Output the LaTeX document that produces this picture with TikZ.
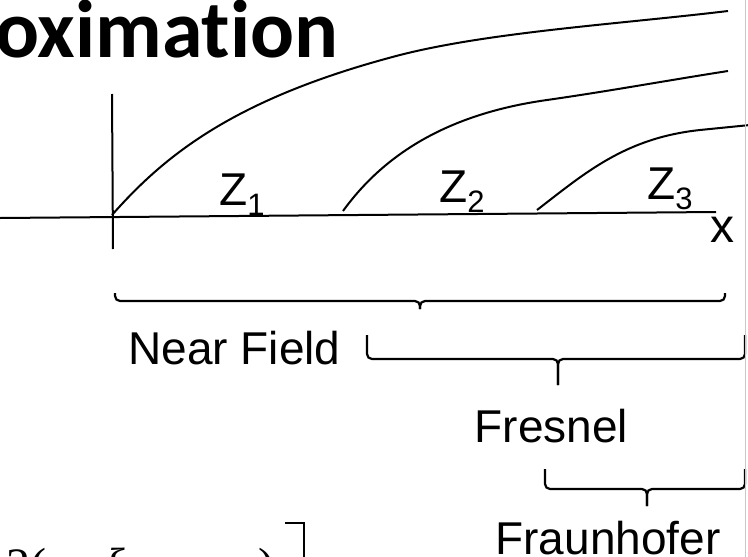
\documentclass[tikz,border=0pt]{standalone}
\usepackage{fontspec}
\setmainfont{Liberation Sans}
\newfontfamily\titlefont[Ligatures={NoCommon,NoContextual}]{Carlito}
\newfontfamily\eqfont{Liberation Serif}
\usetikzlibrary{positioning}
\definecolor{edgegray}{RGB}{200,200,200}
% Z with a lowered index
\newcommand{\zsub}[1]{Z{\fontsize{31}{31}\selectfont\raisebox{-10pt}{#1}}}
% zone brace: left x, tip x, right x, line y, hook top, tip bottom
\newcommand{\zonebrace}[6]{%
  \draw[bracket] (#1,#5) -- (#1,#4) -- (#2,#4) -- (#2,#6);
  \draw[bracket] (#2,#6) -- (#2,#4) -- (#3,#4) -- (#3,#5);}

\begin{document}
\begin{tikzpicture}[x=1pt, y=-1pt,
    wave/.style={black, line width=2pt},
    bracket/.style={black, line width=2.2pt, rounded corners=5pt},
    lab/.style={font=\fontsize{46}{50}\selectfont, inner sep=0pt, anchor=base}]
  \useasboundingbox (0,0) rectangle (748,557);
  \clip (0,0) rectangle (748,557);
  % title, cut at the left
  \node[font=\titlefont\bfseries\fontsize{82}{90}\selectfont, inner sep=0pt,
    anchor=base west] (title) at (-5,57) {oximat\kern0pt ion};
  % axes
  \draw[line width=2pt] (112,94) -- (113,249);
  \draw[line width=2pt] (0,218) -- (716,212);
  % wave fronts
  \draw[wave] (112,215) .. controls (165,155) and (235,98) .. (400,55)
    .. controls (490,32) and (620,24) .. (728,11);
  \draw[wave] (343,211) .. controls (380,160) and (440,115) .. (547,100)
    .. controls (610,91) and (670,80) .. (728,71);
  \draw[wave] (537,210) .. controls (585,173) and (625,138) .. (700,130)
    .. controls (725,127.5) .. (750,125);
  % labels on the axis
  \node[lab, anchor=base west] (z1) at (219,205) {\zsub{1}};
  \node[lab, anchor=base west] (z2) at (439,202) {\zsub{2}};
  \node[lab, anchor=base west] (z3) at (647,199) {\zsub{3}};
  \node[lab, font=\fontsize{48}{50}\selectfont] (xlab) at (722.5,242) {x};
  % zones
  \zonebrace{115}{420}{725}{301}{293}{309}
  \zonebrace{367}{558}{745}{359}{335}{385}
  \zonebrace{545}{647}{745}{489}{469}{506}
  \node[lab] (nearlab) at (234.5,364) {Near Field};
  \node[lab] (fresnellab) at (551.5,442) {Fresnel};
  \node[lab] (fraunlab) at (608,554) {Fraunhofer};
  % frame edge
  \draw[edgegray, line width=1.5pt] (745.5,0) -- (745.5,557);
  % formula below, cut at the bottom
  \node[font=\eqfont\fontsize{48}{50}\selectfont, inner sep=0pt,
    anchor=base west] (eqa) at (6,581) {2(};
  \node[font=\eqfont\itshape\fontsize{48}{50}\selectfont, inner sep=0pt,
    anchor=base west] (eqb) at (104,581) {ξ};
  \node[font=\eqfont\fontsize{48}{50}\selectfont, inner sep=0pt,
    anchor=base west] (eqc) at (258,581) {)};
  \draw[line width=2pt] (285,523) -- (304,523) -- (304,560);
\end{tikzpicture}
\end{document}
